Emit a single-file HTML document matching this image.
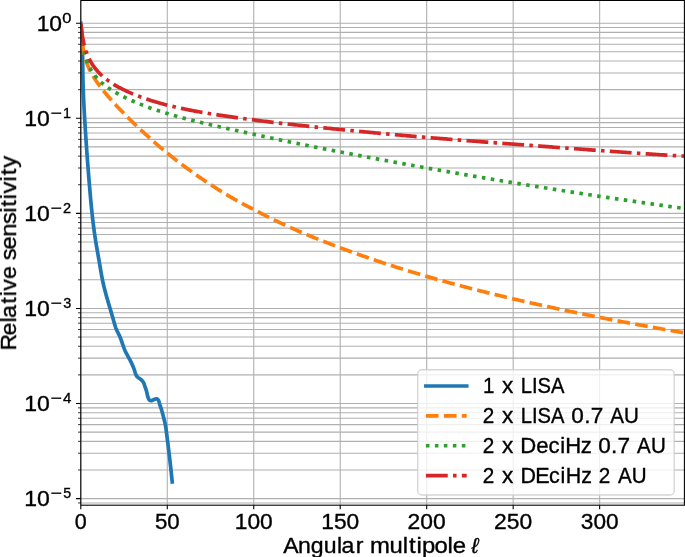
<!DOCTYPE html>
<html><head><meta charset="utf-8"><style>
html,body{margin:0;padding:0;background:#fff;}
svg{display:block;font-family:"Liberation Sans",sans-serif;}
text{will-change:transform;stroke:#000;stroke-width:0.35px;}
</style></head><body>
<svg width="685" height="557" viewBox="0 0 685 557">
<defs><clipPath id="ax"><rect x="80.80" y="0.45" width="603.60" height="504.75"/></clipPath></defs>
<rect width="685" height="557" fill="#fff"/>
<path d="M80.80 0.45V505.20M167.28 0.45V505.20M253.75 0.45V505.20M340.23 0.45V505.20M426.70 0.45V505.20M513.17 0.45V505.20M599.65 0.45V505.20M80.80 502.95H684.40M80.80 498.60H684.40M80.80 469.98H684.40M80.80 453.24H684.40M80.80 441.36H684.40M80.80 432.14H684.40M80.80 424.61H684.40M80.80 418.25H684.40M80.80 412.73H684.40M80.80 407.87H684.40M80.80 403.52H684.40M80.80 374.90H684.40M80.80 358.16H684.40M80.80 346.28H684.40M80.80 337.06H684.40M80.80 329.53H684.40M80.80 323.17H684.40M80.80 317.65H684.40M80.80 312.79H684.40M80.80 308.44H684.40M80.80 279.82H684.40M80.80 263.08H684.40M80.80 251.20H684.40M80.80 241.98H684.40M80.80 234.45H684.40M80.80 228.09H684.40M80.80 222.57H684.40M80.80 217.71H684.40M80.80 213.36H684.40M80.80 184.74H684.40M80.80 168.00H684.40M80.80 156.12H684.40M80.80 146.90H684.40M80.80 139.37H684.40M80.80 133.01H684.40M80.80 127.49H684.40M80.80 122.63H684.40M80.80 118.28H684.40M80.80 89.66H684.40M80.80 72.92H684.40M80.80 61.04H684.40M80.80 51.82H684.40M80.80 44.29H684.40M80.80 37.93H684.40M80.80 32.41H684.40M80.80 27.55H684.40M80.80 23.20H684.40" stroke="#b0b0b0" stroke-width="1.088" fill="none"/>
<g clip-path="url(#ax)">
<path d="M80.78 23.20 L80.86 24.00 L80.95 24.80 L81.03 25.60 L81.11 26.40 L81.19 27.21 L81.26 28.01 L81.33 28.81 L81.40 29.61 L81.47 30.41 L81.53 31.21 L81.59 32.02 L81.65 32.82 L81.71 33.62 L81.76 34.42 L81.81 35.22 L81.86 36.03 L81.91 36.83 L81.96 37.63 L82.00 38.44 L82.05 39.24 L82.09 40.04 L82.13 40.84 L82.16 41.65 L82.20 42.45 L82.23 43.25 L82.27 44.06 L82.30 44.86 L82.33 45.66 L82.35 46.47 L82.38 47.27 L82.41 48.07 L82.43 48.88 L82.45 49.68 L82.48 50.49 L82.50 51.29 L82.52 52.09 L82.54 52.90 L82.55 53.70 L82.57 54.50 L82.59 55.31 L82.60 56.11 L82.62 56.92 L82.63 57.72 L82.65 58.52 L82.66 59.33 L82.67 60.13 L82.68 60.94 L82.70 61.74 L82.71 62.55 L82.72 63.35 L82.73 64.15 L82.74 64.96 L82.75 65.76 L82.76 66.57 L82.77 67.37 L82.78 68.17 L82.79 68.98 L82.80 69.78 L82.82 70.59 L82.83 71.39 L82.84 72.20 L82.85 73.00 L82.86 73.80 L82.88 74.61 L82.89 75.41 L82.90 76.22 L82.92 77.02 L82.93 77.82 L82.95 78.63 L82.97 79.43 L82.99 80.24 L83.00 81.04 L83.02 81.84 L83.04 82.65 L83.06 83.45 L83.09 84.25 L83.11 85.06 L83.13 85.86 L83.16 86.67 L83.18 87.47 L83.21 88.27 L83.24 89.08 L83.26 89.88 L83.29 90.68 L83.32 91.49 L83.35 92.29 L83.38 93.09 L83.41 93.89 L83.44 94.70 L83.48 95.50 L83.51 96.30 L83.54 97.11 L83.58 97.91 L83.61 98.71 L83.65 99.52 L83.69 100.32 L83.72 101.12 L83.76 101.92 L83.80 102.73 L83.84 103.53 L83.88 104.33 L83.92 105.14 L83.96 105.94 L84.00 106.74 L84.04 107.54 L84.08 108.35 L84.12 109.15 L84.17 109.95 L84.21 110.75 L84.26 111.56 L84.30 112.36 L84.34 113.16 L84.39 113.96 L84.43 114.76 L84.48 115.57 L84.53 116.37 L84.57 117.17 L84.62 117.97 L84.67 118.78 L84.72 119.58 L84.76 120.38 L84.81 121.18 L84.86 121.98 L84.91 122.79 L84.96 123.59 L85.01 124.39 L85.06 125.19 L85.11 125.99 L85.16 126.80 L85.21 127.60 L85.26 128.40 L85.31 129.20 L85.36 130.00 L85.41 130.81 L85.46 131.61 L85.52 132.41 L85.57 133.21 L85.62 134.02 L85.67 134.82 L85.73 135.62 L85.78 136.42 L85.83 137.22 L85.89 138.02 L85.94 138.83 L85.99 139.63 L86.05 140.43 L86.10 141.23 L86.16 142.03 L86.21 142.84 L86.27 143.64 L86.32 144.44 L86.38 145.24 L86.43 146.04 L86.49 146.85 L86.55 147.65 L86.60 148.45 L86.66 149.25 L86.72 150.05 L86.78 150.86 L86.83 151.66 L86.89 152.46 L86.95 153.26 L87.01 154.06 L87.07 154.86 L87.12 155.67 L87.18 156.47 L87.24 157.27 L87.30 158.07 L87.36 158.87 L87.42 159.67 L87.48 160.48 L87.54 161.28 L87.60 162.08 L87.66 162.88 L87.72 163.68 L87.79 164.49 L87.85 165.29 L87.91 166.09 L87.97 166.89 L88.03 167.69 L88.10 168.49 L88.16 169.30 L88.22 170.10 L88.28 170.90 L88.35 171.70 L88.41 172.50 L88.47 173.30 L88.54 174.11 L88.60 174.91 L88.67 175.71 L88.73 176.51 L88.80 177.31 L88.86 178.11 L88.93 178.92 L88.99 179.72 L89.06 180.52 L89.12 181.32 L89.19 182.12 L89.25 182.92 L89.32 183.72 L89.39 184.53 L89.45 185.33 L89.52 186.13 L89.59 186.93 L89.65 187.73 L89.72 188.53 L89.79 189.34 L89.86 190.14 L89.93 190.94 L90.00 191.74 L90.06 192.54 L90.13 193.34 L90.20 194.14 L90.27 194.95 L90.35 195.75 L90.42 196.55 L90.49 197.35 L90.56 198.15 L90.63 198.95 L90.71 199.75 L90.78 200.55 L90.85 201.35 L90.93 202.15 L91.00 202.96 L91.08 203.76 L91.16 204.56 L91.23 205.36 L91.31 206.16 L91.39 206.96 L91.47 207.76 L91.55 208.56 L91.63 209.36 L91.71 210.16 L91.80 210.96 L91.88 211.76 L91.96 212.56 L92.05 213.36 L92.14 214.16 L92.22 214.96 L92.31 215.76 L92.40 216.55 L92.49 217.35 L92.58 218.15 L92.67 218.95 L92.76 219.75 L92.86 220.55 L92.95 221.35 L93.05 222.15 L93.14 222.94 L93.24 223.74 L93.34 224.54 L93.44 225.34 L93.54 226.13 L93.64 226.93 L93.75 227.73 L93.85 228.53 L93.96 229.32 L94.06 230.12 L94.17 230.92 L94.28 231.71 L94.39 232.51 L94.50 233.30 L94.62 234.10 L94.73 234.89 L94.85 235.69 L94.97 236.49 L95.09 237.28 L95.21 238.08 L95.33 238.87 L95.45 239.66 L95.58 240.46 L95.70 241.25 L95.83 242.05 L95.96 242.84 L96.09 243.63 L96.22 244.43 L96.36 245.22 L96.49 246.01 L96.63 246.80 L96.76 247.60 L96.90 248.39 L97.04 249.18 L97.18 249.97 L97.32 250.77 L97.46 251.56 L97.60 252.35 L97.74 253.14 L97.88 253.93 L98.02 254.73 L98.16 255.52 L98.30 256.31 L98.44 257.10 L98.58 257.89 L98.72 258.69 L98.86 259.48 L99.00 260.27 L99.14 261.06 L99.27 261.86 L99.41 262.65 L99.54 263.44 L99.68 264.24 L99.81 265.03 L99.95 265.82 L100.08 266.62 L100.21 267.41 L100.34 268.20 L100.48 269.00 L100.61 269.79 L100.74 270.58 L100.88 271.38 L101.02 272.17 L101.15 272.96 L101.29 273.75 L101.43 274.54 L101.58 275.33 L101.72 276.12 L101.87 276.91 L102.02 277.70 L102.18 278.49 L102.34 279.28 L102.50 280.07 L102.66 280.85 L102.83 281.64 L103.00 282.42 L103.18 283.21 L103.35 283.99 L103.53 284.78 L103.72 285.56 L103.91 286.34 L104.10 287.12 L104.29 287.90 L104.48 288.68 L104.68 289.46 L104.88 290.24 L105.09 291.02 L105.29 291.79 L105.50 292.57 L105.71 293.35 L105.92 294.12 L106.13 294.90 L106.35 295.67 L106.56 296.45 L106.78 297.22 L107.00 298.00 L107.22 298.77 L107.44 299.55 L107.67 300.32 L107.89 301.09 L108.12 301.87 L108.34 302.64 L108.57 303.41 L108.80 304.18 L109.02 304.95 L109.25 305.73 L109.48 306.50 L109.71 307.27 L109.94 308.04 L110.17 308.81 L110.40 309.58 L110.63 310.36 L110.85 311.13 L111.08 311.90 L111.31 312.67 L111.54 313.44 L111.76 314.21 L111.99 314.98 L112.22 315.76 L112.44 316.53 L112.66 317.30 L112.89 318.07 L113.11 318.84 L113.33 319.62 L113.55 320.39 L113.78 321.16 L114.00 321.94 L114.22 322.71 L114.44 323.48 L114.66 324.26 L114.89 325.03 L115.12 325.80 L115.36 326.57 L115.62 327.33 L115.88 328.09 L116.17 328.84 L116.47 329.58 L116.79 330.31 L117.13 331.04 L117.48 331.76 L117.84 332.48 L118.20 333.20 L118.56 333.92 L118.92 334.64 L119.27 335.36 L119.61 336.09 L119.93 336.83 L120.24 337.57 L120.54 338.31 L120.83 339.06 L121.11 339.81 L121.38 340.57 L121.64 341.33 L121.91 342.09 L122.16 342.85 L122.42 343.62 L122.68 344.38 L122.94 345.14 L123.20 345.90 L123.47 346.66 L123.75 347.41 L124.03 348.16 L124.33 348.91 L124.63 349.65 L124.95 350.39 L125.28 351.12 L125.63 351.85 L125.98 352.57 L126.35 353.29 L126.72 354.00 L127.09 354.72 L127.48 355.43 L127.86 356.13 L128.25 356.84 L128.64 357.55 L129.03 358.25 L129.42 358.96 L129.80 359.67 L130.18 360.38 L130.55 361.09 L130.92 361.80 L131.28 362.52 L131.63 363.24 L131.96 363.97 L132.29 364.69 L132.61 365.43 L132.92 366.17 L133.21 366.91 L133.51 367.66 L133.79 368.41 L134.06 369.17 L134.33 369.94 L134.59 370.71 L134.84 371.48 L135.09 372.27 L135.33 373.06 L135.59 373.84 L135.87 374.60 L136.20 375.32 L136.60 375.99 L137.09 376.60 L137.65 377.15 L138.26 377.65 L138.91 378.13 L139.57 378.60 L140.22 379.07 L140.86 379.55 L141.47 380.05 L142.05 380.58 L142.58 381.15 L143.05 381.78 L143.46 382.46 L143.80 383.20 L144.10 383.97 L144.37 384.76 L144.64 385.54 L144.91 386.31 L145.18 387.08 L145.45 387.83 L145.71 388.58 L145.96 389.33 L146.20 390.08 L146.43 390.84 L146.63 391.60 L146.82 392.37 L146.99 393.14 L147.15 393.93 L147.32 394.73 L147.50 395.53 L147.71 396.35 L147.96 397.17 L148.26 398.00 L148.62 398.80 L149.04 399.53 L149.53 400.12 L150.11 400.52 L150.76 400.69 L151.49 400.63 L152.26 400.41 L153.06 400.07 L153.87 399.66 L154.68 399.27 L155.46 398.97 L156.21 398.83 L156.90 398.93 L157.54 399.24 L158.08 399.74 L158.53 400.38 L158.86 401.13 L159.11 401.94 L159.31 402.78 L159.51 403.62 L159.72 404.42 L159.96 405.19 L160.21 405.95 L160.47 406.69 L160.74 407.43 L160.99 408.17 L161.24 408.92 L161.48 409.67 L161.71 410.44 L161.94 411.20 L162.16 411.97 L162.37 412.75 L162.58 413.53 L162.78 414.31 L162.99 415.09 L163.19 415.88 L163.39 416.66 L163.59 417.44 L163.79 418.22 L163.99 419.00 L164.19 419.77 L164.38 420.55 L164.58 421.32 L164.76 422.10 L164.94 422.88 L165.12 423.66 L165.28 424.44 L165.43 425.22 L165.57 426.01 L165.70 426.80 L165.83 427.60 L165.94 428.39 L166.05 429.19 L166.16 429.99 L166.27 430.79 L166.37 431.59 L166.47 432.39 L166.57 433.19 L166.67 433.99 L166.77 434.79 L166.88 435.59 L166.98 436.38 L167.08 437.18 L167.18 437.98 L167.28 438.78 L167.38 439.58 L167.48 440.38 L167.58 441.18 L167.68 441.98 L167.78 442.77 L167.88 443.57 L167.98 444.37 L168.08 445.17 L168.18 445.97 L168.27 446.76 L168.37 447.56 L168.47 448.36 L168.57 449.16 L168.66 449.96 L168.76 450.75 L168.86 451.55 L168.95 452.35 L169.05 453.15 L169.15 453.95 L169.24 454.74 L169.34 455.54 L169.43 456.34 L169.53 457.14 L169.62 457.94 L169.71 458.73 L169.81 459.53 L169.90 460.33 L169.99 461.13 L170.08 461.93 L170.17 462.72 L170.26 463.52 L170.35 464.32 L170.44 465.12 L170.53 465.92 L170.62 466.71 L170.71 467.51 L170.80 468.31 L170.88 469.11 L170.97 469.91 L171.06 470.71 L171.14 471.51 L171.23 472.30 L171.31 473.10 L171.39 473.90 L171.48 474.70 L171.56 475.50 L171.64 476.30 L171.72 477.10 L171.80 477.90 L171.88 478.70 L171.96 479.50 L172.04 480.30 L172.12 481.10 L172.20 481.90" stroke="#1f77b4" stroke-width="3.7" fill="none" stroke-linecap="square" stroke-linejoin="round"/>
<path d="M80.80 23.20 L82.53 44.98 L84.26 54.65 L85.99 60.83 L87.72 65.50 L89.45 69.36 L91.18 72.72 L92.91 75.76 L94.64 78.57 L96.37 81.19 L98.09 83.68 L99.82 86.06 L101.55 88.35 L103.28 90.56 L105.01 92.69 L106.74 94.77 L108.47 96.81 L110.20 98.79 L111.93 100.74 L113.66 102.66 L115.39 104.54 L117.12 106.40 L118.85 108.23 L120.58 110.04 L122.31 111.83 L124.04 113.60 L125.77 115.35 L127.50 117.08 L129.23 118.80 L130.96 120.50 L132.69 122.18 L134.41 123.85 L136.14 125.50 L137.87 127.14 L139.60 128.77 L141.33 130.38 L143.06 131.98 L144.79 133.57 L146.52 135.15 L148.25 136.71 L149.98 138.26 L151.71 139.80 L153.44 141.32 L155.17 142.84 L156.90 144.33 L158.63 145.82 L160.36 147.29 L162.09 148.75 L163.82 150.20 L165.55 151.63 L167.28 153.04 L169.00 154.45 L170.73 155.84 L172.46 157.21 L174.19 158.58 L175.92 159.93 L177.65 161.27 L179.38 162.60 L181.11 163.92 L182.84 165.22 L184.57 166.52 L186.30 167.80 L188.03 169.07 L189.76 170.33 L191.49 171.57 L193.22 172.81 L194.95 174.03 L196.68 175.25 L198.41 176.45 L200.14 177.64 L201.87 178.82 L203.59 179.99 L205.32 181.15 L207.05 182.30 L208.78 183.44 L210.51 184.57 L212.24 185.68 L213.97 186.79 L215.70 187.89 L217.43 188.98 L219.16 190.06 L220.89 191.12 L222.62 192.18 L224.35 193.23 L226.08 194.27 L227.81 195.30 L229.54 196.33 L231.27 197.34 L233.00 198.34 L234.73 199.34 L236.45 200.32 L238.18 201.29 L239.91 202.25 L241.64 203.18 L243.37 204.11 L245.10 205.03 L246.83 205.94 L248.56 206.84 L250.29 207.75 L252.02 208.65 L253.75 209.56 L255.48 210.46 L257.21 211.36 L258.94 212.26 L260.67 213.15 L262.40 214.03 L264.13 214.91 L265.86 215.78 L267.59 216.65 L269.32 217.51 L271.05 218.36 L272.77 219.21 L274.50 220.06 L276.23 220.89 L277.96 221.73 L279.69 222.55 L281.42 223.37 L283.15 224.18 L284.88 224.99 L286.61 225.79 L288.34 226.58 L290.07 227.36 L291.80 228.14 L293.53 228.91 L295.26 229.68 L296.99 230.43 L298.72 231.19 L300.45 231.93 L302.18 232.67 L303.91 233.40 L305.63 234.13 L307.36 234.85 L309.09 235.57 L310.82 236.28 L312.55 236.98 L314.28 237.68 L316.01 238.38 L317.74 239.07 L319.47 239.76 L321.20 240.44 L322.93 241.12 L324.66 241.80 L326.39 242.47 L328.12 243.14 L329.85 243.81 L331.58 244.47 L333.31 245.13 L335.04 245.79 L336.77 246.44 L338.50 247.10 L340.23 247.75 L341.95 248.40 L343.68 249.04 L345.41 249.68 L347.14 250.32 L348.87 250.96 L350.60 251.59 L352.33 252.21 L354.06 252.84 L355.79 253.46 L357.52 254.08 L359.25 254.69 L360.98 255.31 L362.71 255.91 L364.44 256.52 L366.17 257.12 L367.90 257.72 L369.63 258.32 L371.36 258.91 L373.09 259.50 L374.81 260.09 L376.54 260.67 L378.27 261.25 L380.00 261.83 L381.73 262.41 L383.46 262.98 L385.19 263.55 L386.92 264.11 L388.65 264.68 L390.38 265.24 L392.11 265.80 L393.84 266.35 L395.57 266.90 L397.30 267.45 L399.03 268.00 L400.76 268.54 L402.49 269.09 L404.22 269.62 L405.95 270.16 L407.68 270.69 L409.41 271.22 L411.13 271.75 L412.86 272.28 L414.59 272.80 L416.32 273.32 L418.05 273.84 L419.78 274.35 L421.51 274.86 L423.24 275.37 L424.97 275.88 L426.70 276.39 L428.43 276.89 L430.16 277.39 L431.89 277.88 L433.62 278.38 L435.35 278.87 L437.08 279.36 L438.81 279.85 L440.54 280.33 L442.27 280.81 L444.00 281.29 L445.72 281.77 L447.45 282.24 L449.18 282.72 L450.91 283.19 L452.64 283.66 L454.37 284.12 L456.10 284.58 L457.83 285.05 L459.56 285.51 L461.29 285.96 L463.02 286.42 L464.75 286.87 L466.48 287.32 L468.21 287.77 L469.94 288.22 L471.67 288.67 L473.40 289.11 L475.13 289.55 L476.86 289.99 L478.59 290.43 L480.31 290.87 L482.04 291.30 L483.77 291.73 L485.50 292.16 L487.23 292.59 L488.96 293.02 L490.69 293.45 L492.42 293.87 L494.15 294.30 L495.88 294.72 L497.61 295.14 L499.34 295.55 L501.07 295.97 L502.80 296.39 L504.53 296.80 L506.26 297.21 L507.99 297.62 L509.72 298.03 L511.45 298.44 L513.17 298.85 L514.90 299.25 L516.63 299.66 L518.36 300.06 L520.09 300.46 L521.82 300.86 L523.55 301.26 L525.28 301.65 L527.01 302.05 L528.74 302.44 L530.47 302.83 L532.20 303.22 L533.93 303.61 L535.66 304.00 L537.39 304.39 L539.12 304.77 L540.85 305.15 L542.58 305.53 L544.31 305.91 L546.04 306.29 L547.76 306.67 L549.49 307.04 L551.22 307.42 L552.95 307.79 L554.68 308.16 L556.41 308.53 L558.14 308.90 L559.87 309.27 L561.60 309.64 L563.33 310.00 L565.06 310.37 L566.79 310.73 L568.52 311.09 L570.25 311.45 L571.98 311.81 L573.71 312.17 L575.44 312.52 L577.17 312.88 L578.90 313.23 L580.63 313.58 L582.36 313.93 L584.08 314.28 L585.81 314.63 L587.54 314.98 L589.27 315.33 L591.00 315.67 L592.73 316.02 L594.46 316.36 L596.19 316.70 L597.92 317.05 L599.65 317.39 L601.38 317.72 L603.11 318.06 L604.84 318.40 L606.57 318.73 L608.30 319.07 L610.03 319.40 L611.76 319.74 L613.49 320.07 L615.22 320.40 L616.94 320.73 L618.67 321.06 L620.40 321.38 L622.13 321.71 L623.86 322.04 L625.59 322.36 L627.32 322.68 L629.05 323.01 L630.78 323.33 L632.51 323.65 L634.24 323.97 L635.97 324.29 L637.70 324.61 L639.43 324.92 L641.16 325.24 L642.89 325.55 L644.62 325.87 L646.35 326.18 L648.08 326.49 L649.81 326.81 L651.53 327.12 L653.26 327.43 L654.99 327.74 L656.72 328.04 L658.45 328.35 L660.18 328.66 L661.91 328.96 L663.64 329.27 L665.37 329.57 L667.10 329.88 L668.83 330.18 L670.56 330.48 L672.29 330.78 L674.02 331.08 L675.75 331.38 L677.48 331.68 L679.21 331.98 L680.94 332.28 L682.67 332.57 L684.40 332.87" stroke="#ff7f0e" stroke-width="3.7" fill="none" stroke-dasharray="12.69 5.27" stroke-dashoffset="-0.9" stroke-linejoin="round"/>
<path d="M80.80 23.20 L82.53 42.73 L84.26 52.45 L85.99 58.79 L87.72 63.47 L89.45 67.19 L91.18 70.28 L92.91 72.93 L94.64 75.26 L96.37 77.34 L98.09 79.22 L99.82 80.95 L101.55 82.54 L103.28 84.03 L105.01 85.42 L106.74 86.73 L108.47 87.97 L110.20 89.15 L111.93 90.28 L113.66 91.35 L115.39 92.38 L117.12 93.37 L118.85 94.32 L120.58 95.25 L122.31 96.15 L124.04 97.02 L125.77 97.87 L127.50 98.70 L129.23 99.50 L130.96 100.29 L132.69 101.06 L134.41 101.81 L136.14 102.54 L137.87 103.26 L139.60 103.96 L141.33 104.65 L143.06 105.32 L144.79 105.98 L146.52 106.63 L148.25 107.26 L149.98 107.89 L151.71 108.50 L153.44 109.10 L155.17 109.69 L156.90 110.27 L158.63 110.85 L160.36 111.41 L162.09 111.96 L163.82 112.50 L165.55 113.03 L167.28 113.55 L169.00 114.07 L170.73 114.57 L172.46 115.07 L174.19 115.56 L175.92 116.05 L177.65 116.52 L179.38 117.00 L181.11 117.46 L182.84 117.92 L184.57 118.38 L186.30 118.83 L188.03 119.28 L189.76 119.72 L191.49 120.16 L193.22 120.59 L194.95 121.02 L196.68 121.44 L198.41 121.86 L200.14 122.28 L201.87 122.70 L203.59 123.11 L205.32 123.51 L207.05 123.92 L208.78 124.32 L210.51 124.72 L212.24 125.12 L213.97 125.52 L215.70 125.91 L217.43 126.30 L219.16 126.69 L220.89 127.08 L222.62 127.46 L224.35 127.85 L226.08 128.23 L227.81 128.62 L229.54 129.00 L231.27 129.38 L233.00 129.76 L234.73 130.14 L236.45 130.52 L238.18 130.89 L239.91 131.27 L241.64 131.65 L243.37 132.03 L245.10 132.40 L246.83 132.78 L248.56 133.16 L250.29 133.54 L252.02 133.92 L253.75 134.30 L255.48 134.68 L257.21 135.05 L258.94 135.43 L260.67 135.80 L262.40 136.18 L264.13 136.55 L265.86 136.92 L267.59 137.29 L269.32 137.66 L271.05 138.03 L272.77 138.40 L274.50 138.76 L276.23 139.13 L277.96 139.49 L279.69 139.85 L281.42 140.21 L283.15 140.57 L284.88 140.93 L286.61 141.29 L288.34 141.65 L290.07 142.01 L291.80 142.36 L293.53 142.71 L295.26 143.07 L296.99 143.42 L298.72 143.77 L300.45 144.12 L302.18 144.47 L303.91 144.82 L305.63 145.17 L307.36 145.52 L309.09 145.86 L310.82 146.21 L312.55 146.55 L314.28 146.89 L316.01 147.24 L317.74 147.58 L319.47 147.92 L321.20 148.26 L322.93 148.60 L324.66 148.94 L326.39 149.28 L328.12 149.61 L329.85 149.95 L331.58 150.28 L333.31 150.62 L335.04 150.95 L336.77 151.29 L338.50 151.62 L340.23 151.95 L341.95 152.28 L343.68 152.61 L345.41 152.94 L347.14 153.27 L348.87 153.60 L350.60 153.93 L352.33 154.26 L354.06 154.59 L355.79 154.92 L357.52 155.25 L359.25 155.58 L360.98 155.90 L362.71 156.23 L364.44 156.56 L366.17 156.88 L367.90 157.21 L369.63 157.53 L371.36 157.86 L373.09 158.18 L374.81 158.50 L376.54 158.83 L378.27 159.15 L380.00 159.47 L381.73 159.79 L383.46 160.11 L385.19 160.43 L386.92 160.75 L388.65 161.07 L390.38 161.39 L392.11 161.71 L393.84 162.03 L395.57 162.34 L397.30 162.66 L399.03 162.98 L400.76 163.29 L402.49 163.61 L404.22 163.92 L405.95 164.24 L407.68 164.55 L409.41 164.86 L411.13 165.17 L412.86 165.49 L414.59 165.80 L416.32 166.11 L418.05 166.42 L419.78 166.73 L421.51 167.03 L423.24 167.34 L424.97 167.65 L426.70 167.95 L428.43 168.26 L430.16 168.57 L431.89 168.87 L433.62 169.18 L435.35 169.48 L437.08 169.78 L438.81 170.09 L440.54 170.39 L442.27 170.69 L444.00 171.00 L445.72 171.30 L447.45 171.60 L449.18 171.90 L450.91 172.20 L452.64 172.50 L454.37 172.80 L456.10 173.10 L457.83 173.40 L459.56 173.70 L461.29 174.00 L463.02 174.30 L464.75 174.60 L466.48 174.90 L468.21 175.19 L469.94 175.49 L471.67 175.78 L473.40 176.08 L475.13 176.38 L476.86 176.67 L478.59 176.96 L480.31 177.26 L482.04 177.55 L483.77 177.84 L485.50 178.14 L487.23 178.43 L488.96 178.72 L490.69 179.01 L492.42 179.30 L494.15 179.59 L495.88 179.88 L497.61 180.17 L499.34 180.45 L501.07 180.74 L502.80 181.03 L504.53 181.31 L506.26 181.60 L507.99 181.88 L509.72 182.17 L511.45 182.45 L513.17 182.73 L514.90 183.02 L516.63 183.30 L518.36 183.58 L520.09 183.86 L521.82 184.14 L523.55 184.42 L525.28 184.70 L527.01 184.98 L528.74 185.26 L530.47 185.54 L532.20 185.82 L533.93 186.10 L535.66 186.38 L537.39 186.66 L539.12 186.93 L540.85 187.21 L542.58 187.49 L544.31 187.76 L546.04 188.04 L547.76 188.31 L549.49 188.59 L551.22 188.86 L552.95 189.14 L554.68 189.41 L556.41 189.68 L558.14 189.95 L559.87 190.23 L561.60 190.50 L563.33 190.77 L565.06 191.04 L566.79 191.31 L568.52 191.58 L570.25 191.84 L571.98 192.11 L573.71 192.38 L575.44 192.65 L577.17 192.91 L578.90 193.18 L580.63 193.44 L582.36 193.71 L584.08 193.97 L585.81 194.24 L587.54 194.50 L589.27 194.76 L591.00 195.02 L592.73 195.28 L594.46 195.54 L596.19 195.80 L597.92 196.06 L599.65 196.32 L601.38 196.58 L603.11 196.84 L604.84 197.09 L606.57 197.35 L608.30 197.61 L610.03 197.86 L611.76 198.12 L613.49 198.38 L615.22 198.63 L616.94 198.88 L618.67 199.14 L620.40 199.39 L622.13 199.65 L623.86 199.90 L625.59 200.15 L627.32 200.40 L629.05 200.66 L630.78 200.91 L632.51 201.16 L634.24 201.41 L635.97 201.66 L637.70 201.91 L639.43 202.16 L641.16 202.41 L642.89 202.66 L644.62 202.90 L646.35 203.15 L648.08 203.40 L649.81 203.65 L651.53 203.89 L653.26 204.14 L654.99 204.38 L656.72 204.63 L658.45 204.87 L660.18 205.12 L661.91 205.36 L663.64 205.60 L665.37 205.85 L667.10 206.09 L668.83 206.33 L670.56 206.57 L672.29 206.81 L674.02 207.05 L675.75 207.29 L677.48 207.53 L679.21 207.77 L680.94 208.01 L682.67 208.25 L684.40 208.49" stroke="#2ca02c" stroke-width="3.7" fill="none" stroke-dasharray="3.54 5.44" stroke-dashoffset="-1.15" stroke-linejoin="round"/>
<path d="M80.80 23.20 L82.53 37.15 L84.26 45.31 L85.99 51.11 L87.72 55.63 L89.45 59.34 L91.18 62.49 L92.91 65.22 L94.64 67.65 L96.37 69.82 L98.09 71.79 L99.82 73.60 L101.55 75.26 L103.28 76.81 L105.01 78.25 L106.74 79.61 L108.47 80.88 L110.20 82.09 L111.93 83.23 L113.66 84.31 L115.39 85.35 L117.12 86.34 L118.85 87.29 L120.58 88.21 L122.31 89.09 L124.04 89.95 L125.77 90.77 L127.50 91.57 L129.23 92.35 L130.96 93.10 L132.69 93.83 L134.41 94.54 L136.14 95.23 L137.87 95.90 L139.60 96.56 L141.33 97.20 L143.06 97.82 L144.79 98.43 L146.52 99.02 L148.25 99.60 L149.98 100.16 L151.71 100.71 L153.44 101.25 L155.17 101.78 L156.90 102.29 L158.63 102.79 L160.36 103.28 L162.09 103.75 L163.82 104.22 L165.55 104.67 L167.28 105.11 L169.00 105.54 L170.73 105.97 L172.46 106.38 L174.19 106.78 L175.92 107.18 L177.65 107.57 L179.38 107.95 L181.11 108.32 L182.84 108.68 L184.57 109.04 L186.30 109.40 L188.03 109.74 L189.76 110.08 L191.49 110.42 L193.22 110.74 L194.95 111.07 L196.68 111.38 L198.41 111.70 L200.14 112.00 L201.87 112.31 L203.59 112.60 L205.32 112.90 L207.05 113.19 L208.78 113.47 L210.51 113.76 L212.24 114.03 L213.97 114.31 L215.70 114.58 L217.43 114.85 L219.16 115.11 L220.89 115.37 L222.62 115.63 L224.35 115.89 L226.08 116.14 L227.81 116.39 L229.54 116.64 L231.27 116.88 L233.00 117.13 L234.73 117.37 L236.45 117.61 L238.18 117.85 L239.91 118.08 L241.64 118.32 L243.37 118.55 L245.10 118.78 L246.83 119.01 L248.56 119.24 L250.29 119.47 L252.02 119.70 L253.75 119.92 L255.48 120.15 L257.21 120.37 L258.94 120.59 L260.67 120.81 L262.40 121.03 L264.13 121.24 L265.86 121.45 L267.59 121.66 L269.32 121.87 L271.05 122.08 L272.77 122.29 L274.50 122.49 L276.23 122.70 L277.96 122.90 L279.69 123.10 L281.42 123.30 L283.15 123.49 L284.88 123.69 L286.61 123.88 L288.34 124.08 L290.07 124.27 L291.80 124.46 L293.53 124.65 L295.26 124.84 L296.99 125.03 L298.72 125.22 L300.45 125.40 L302.18 125.59 L303.91 125.77 L305.63 125.95 L307.36 126.14 L309.09 126.32 L310.82 126.50 L312.55 126.68 L314.28 126.86 L316.01 127.04 L317.74 127.22 L319.47 127.39 L321.20 127.57 L322.93 127.75 L324.66 127.92 L326.39 128.10 L328.12 128.27 L329.85 128.45 L331.58 128.62 L333.31 128.80 L335.04 128.97 L336.77 129.15 L338.50 129.32 L340.23 129.49 L341.95 129.66 L343.68 129.84 L345.41 130.01 L347.14 130.18 L348.87 130.35 L350.60 130.52 L352.33 130.69 L354.06 130.86 L355.79 131.02 L357.52 131.19 L359.25 131.36 L360.98 131.52 L362.71 131.69 L364.44 131.85 L366.17 132.02 L367.90 132.18 L369.63 132.35 L371.36 132.51 L373.09 132.67 L374.81 132.83 L376.54 132.99 L378.27 133.15 L380.00 133.31 L381.73 133.47 L383.46 133.63 L385.19 133.79 L386.92 133.95 L388.65 134.10 L390.38 134.26 L392.11 134.42 L393.84 134.57 L395.57 134.73 L397.30 134.88 L399.03 135.03 L400.76 135.19 L402.49 135.34 L404.22 135.49 L405.95 135.64 L407.68 135.79 L409.41 135.94 L411.13 136.09 L412.86 136.24 L414.59 136.39 L416.32 136.54 L418.05 136.69 L419.78 136.83 L421.51 136.98 L423.24 137.12 L424.97 137.27 L426.70 137.41 L428.43 137.56 L430.16 137.70 L431.89 137.84 L433.62 137.98 L435.35 138.13 L437.08 138.27 L438.81 138.41 L440.54 138.55 L442.27 138.69 L444.00 138.83 L445.72 138.96 L447.45 139.10 L449.18 139.24 L450.91 139.38 L452.64 139.51 L454.37 139.65 L456.10 139.79 L457.83 139.92 L459.56 140.06 L461.29 140.19 L463.02 140.33 L464.75 140.46 L466.48 140.60 L468.21 140.73 L469.94 140.86 L471.67 141.00 L473.40 141.13 L475.13 141.26 L476.86 141.39 L478.59 141.52 L480.31 141.65 L482.04 141.79 L483.77 141.92 L485.50 142.05 L487.23 142.18 L488.96 142.31 L490.69 142.44 L492.42 142.57 L494.15 142.70 L495.88 142.82 L497.61 142.95 L499.34 143.08 L501.07 143.21 L502.80 143.34 L504.53 143.47 L506.26 143.59 L507.99 143.72 L509.72 143.85 L511.45 143.98 L513.17 144.10 L514.90 144.23 L516.63 144.36 L518.36 144.49 L520.09 144.61 L521.82 144.74 L523.55 144.87 L525.28 145.00 L527.01 145.13 L528.74 145.26 L530.47 145.39 L532.20 145.52 L533.93 145.65 L535.66 145.78 L537.39 145.91 L539.12 146.04 L540.85 146.17 L542.58 146.30 L544.31 146.43 L546.04 146.56 L547.76 146.69 L549.49 146.82 L551.22 146.95 L552.95 147.08 L554.68 147.22 L556.41 147.35 L558.14 147.48 L559.87 147.61 L561.60 147.74 L563.33 147.87 L565.06 148.00 L566.79 148.13 L568.52 148.25 L570.25 148.38 L571.98 148.51 L573.71 148.64 L575.44 148.77 L577.17 148.90 L578.90 149.02 L580.63 149.15 L582.36 149.28 L584.08 149.40 L585.81 149.53 L587.54 149.66 L589.27 149.78 L591.00 149.91 L592.73 150.03 L594.46 150.15 L596.19 150.28 L597.92 150.40 L599.65 150.52 L601.38 150.64 L603.11 150.76 L604.84 150.89 L606.57 151.01 L608.30 151.13 L610.03 151.25 L611.76 151.38 L613.49 151.50 L615.22 151.63 L616.94 151.75 L618.67 151.87 L620.40 152.00 L622.13 152.12 L623.86 152.25 L625.59 152.37 L627.32 152.49 L629.05 152.62 L630.78 152.74 L632.51 152.86 L634.24 152.98 L635.97 153.11 L637.70 153.23 L639.43 153.35 L641.16 153.47 L642.89 153.59 L644.62 153.70 L646.35 153.82 L648.08 153.94 L649.81 154.05 L651.53 154.17 L653.26 154.28 L654.99 154.40 L656.72 154.51 L658.45 154.62 L660.18 154.73 L661.91 154.84 L663.64 154.94 L665.37 155.05 L667.10 155.15 L668.83 155.26 L670.56 155.36 L672.29 155.46 L674.02 155.55 L675.75 155.65 L677.48 155.74 L679.21 155.84 L680.94 155.93 L682.67 156.02 L684.40 156.12" stroke="#d62728" stroke-width="3.7" fill="none" stroke-dasharray="21.85 5.27 3.54 5.27" stroke-dashoffset="-0.7" stroke-linejoin="round"/>
</g>
<rect x="80.80" y="0.45" width="603.60" height="504.75" fill="none" stroke="#000" stroke-width="1.088"/>
<path d="M80.80 505.20v3.96M167.28 505.20v3.96M253.75 505.20v3.96M340.23 505.20v3.96M426.70 505.20v3.96M513.17 505.20v3.96M599.65 505.20v3.96M80.80 498.60h-4.76M80.80 403.52h-4.76M80.80 308.44h-4.76M80.80 213.36h-4.76M80.80 118.28h-4.76M80.80 23.20h-4.76" stroke="#000" stroke-width="1.088"/><path d="M80.80 502.95h-2.72M80.80 469.98h-2.72M80.80 453.24h-2.72M80.80 441.36h-2.72M80.80 432.14h-2.72M80.80 424.61h-2.72M80.80 418.25h-2.72M80.80 412.73h-2.72M80.80 407.87h-2.72M80.80 374.90h-2.72M80.80 358.16h-2.72M80.80 346.28h-2.72M80.80 337.06h-2.72M80.80 329.53h-2.72M80.80 323.17h-2.72M80.80 317.65h-2.72M80.80 312.79h-2.72M80.80 279.82h-2.72M80.80 263.08h-2.72M80.80 251.20h-2.72M80.80 241.98h-2.72M80.80 234.45h-2.72M80.80 228.09h-2.72M80.80 222.57h-2.72M80.80 217.71h-2.72M80.80 184.74h-2.72M80.80 168.00h-2.72M80.80 156.12h-2.72M80.80 146.90h-2.72M80.80 139.37h-2.72M80.80 133.01h-2.72M80.80 127.49h-2.72M80.80 122.63h-2.72M80.80 89.66h-2.72M80.80 72.92h-2.72M80.80 61.04h-2.72M80.80 51.82h-2.72M80.80 44.29h-2.72M80.80 37.93h-2.72M80.80 32.41h-2.72M80.80 27.55h-2.72" stroke="#000" stroke-width="0.816"/>
<g fill="#000">
<text transform="translate(74.82 528.50) scale(1.0002 1)" font-size="21.5">0</text>
<text transform="translate(154.98 528.50) scale(1.0367 1)" font-size="21.5">50</text>
<text transform="translate(234.79 528.50) scale(1.0583 1)" font-size="21.5">100</text>
<text transform="translate(321.26 528.50) scale(1.0583 1)" font-size="21.5">150</text>
<text transform="translate(407.58 528.50) scale(1.0630 1)" font-size="21.5">200</text>
<text transform="translate(494.05 528.50) scale(1.0630 1)" font-size="21.5">250</text>
<text transform="translate(580.87 528.50) scale(1.0531 1)" font-size="21.5">300</text>
<text transform="translate(36.66 30.70) scale(1.0636 1)" font-size="21.5">10</text>
<text transform="translate(62.25 22.80) scale(1.0981 1)" font-size="15.049999999999999">0</text>
<text transform="translate(24.20 125.78) scale(1.0706 1)" font-size="21.5">10</text>
<text transform="translate(50.76 117.88) scale(1.2719 1)" font-size="15.049999999999999">−</text>
<text transform="translate(63.10 117.88) scale(0.9553 1)" font-size="15.049999999999999">1</text>
<text transform="translate(24.20 220.86) scale(1.0706 1)" font-size="21.5">10</text>
<text transform="translate(50.76 212.96) scale(1.2719 1)" font-size="15.049999999999999">−</text>
<text transform="translate(62.95 212.96) scale(0.9641 1)" font-size="15.049999999999999">2</text>
<text transform="translate(24.20 315.94) scale(1.0706 1)" font-size="21.5">10</text>
<text transform="translate(50.76 308.04) scale(1.2719 1)" font-size="15.049999999999999">−</text>
<text transform="translate(63.17 308.04) scale(0.9606 1)" font-size="15.049999999999999">3</text>
<text transform="translate(24.20 411.02) scale(1.0706 1)" font-size="21.5">10</text>
<text transform="translate(50.76 403.12) scale(1.2719 1)" font-size="15.049999999999999">−</text>
<text transform="translate(62.98 403.12) scale(1.0003 1)" font-size="15.049999999999999">4</text>
<text transform="translate(24.20 506.10) scale(1.0706 1)" font-size="21.5">10</text>
<text transform="translate(50.76 498.20) scale(1.2719 1)" font-size="15.049999999999999">−</text>
<text transform="translate(63.16 498.20) scale(0.9440 1)" font-size="15.049999999999999">5</text>
<text transform="translate(284.15 552.60) scale(1.0740 1)" x="-0.78 12.97 24.88 36.98 49.27 53.39 66.59" font-size="21.5">Angular</text><text transform="translate(370.11 552.60) scale(1.1098 1)" x="-0.20 17.47 29.48 34.98 41.80 46.68 58.05 69.81 74.47" font-size="21.5">multipole</text>
<text x="471.6" y="552.6" font-size="21.5" font-style="italic">ℓ</text>
<g transform="translate(16 347.4) rotate(-90)"><text transform="translate(-1.88 0.00) scale(1.0686 1)" x="-0.96 13.09 25.16 29.32 42.60 49.66 54.97 65.92" font-size="21.5">Relative</text><text transform="translate(88.11 0.00) scale(1.1039 1)" x="-0.83 8.97 20.51 31.88 42.12 47.65 54.50 59.54 70.57 76.10 82.85" font-size="21.5">sensitivity</text></g>
</g>
<g>
<rect x="417.70" y="369.80" width="256.50" height="125.20" rx="4.08" fill="#fff" fill-opacity="0.8" stroke="#ccc" stroke-opacity="0.8" stroke-width="1.36"/>
<path d="M425.9 386.00H466.7" stroke="#1f77b4" stroke-width="3.7" stroke-linecap="square"/>
<text transform="translate(482.98 393.20) scale(0.9553 1)" x="0.00" font-size="21.5">1</text><text transform="translate(502.10 393.20) scale(1.0525 1)" x="0.00" font-size="21.5">x</text><text transform="translate(520.67 393.20) scale(0.9399 1)" x="0.18 11.94 17.96 32.15" font-size="21.5">LISA</text>
<path d="M425.9 415.87H466.7" stroke="#ff7f0e" stroke-width="3.7" stroke-dasharray="12.69 5.27"/>
<text transform="translate(482.75 423.07) scale(0.9641 1)" x="0.00" font-size="21.5">2</text><text transform="translate(502.10 423.07) scale(1.0525 1)" x="0.00" font-size="21.5">x</text><text transform="translate(520.67 423.07) scale(0.9399 1)" x="0.18 11.94 17.96 32.15" font-size="21.5">LISA</text><text transform="translate(571.55 423.07) scale(1.0496 1)" x="-0.24 12.02 18.26" font-size="21.5">0.7</text><text transform="translate(610.14 423.07) scale(0.9570 1)" x="-0.01 14.50" font-size="21.5">AU</text>
<path d="M425.9 445.74H466.7" stroke="#2ca02c" stroke-width="3.7" stroke-dasharray="3.54 5.44"/>
<text transform="translate(482.75 452.94) scale(0.9641 1)" x="0.00" font-size="21.5">2</text><text transform="translate(502.10 452.94) scale(1.0525 1)" x="0.00" font-size="21.5">x</text><text transform="translate(520.51 452.94) scale(1.0280 1)" x="-0.29 15.26 27.15 38.60 43.42 58.59" font-size="21.5">DeciHz</text><text transform="translate(598.46 452.94) scale(1.0496 1)" x="-0.24 12.02 18.26" font-size="21.5">0.7</text><text transform="translate(637.04 452.94) scale(0.9570 1)" x="-0.01 14.50" font-size="21.5">AU</text>
<path d="M425.9 475.61H466.7" stroke="#d62728" stroke-width="3.7" stroke-dasharray="21.85 5.27 3.54 5.27"/>
<text transform="translate(482.75 482.81) scale(0.9641 1)" x="0.00" font-size="21.5">2</text><text transform="translate(502.10 482.81) scale(1.0525 1)" x="0.00" font-size="21.5">x</text><text transform="translate(520.56 482.81) scale(0.9973 1)" x="-0.10 14.73 28.44 40.14 45.28 60.83" font-size="21.5">DEciHz</text><text transform="translate(598.79 482.81) scale(0.9641 1)" x="0.00" font-size="21.5">2</text><text transform="translate(617.92 482.81) scale(0.9570 1)" x="-0.01 14.50" font-size="21.5">AU</text>
</g>
</svg>
</body></html>
